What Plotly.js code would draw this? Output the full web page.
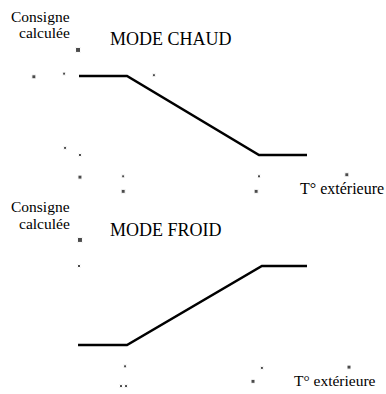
<!DOCTYPE html>
<html>
<head>
<meta charset="utf-8">
<script src="https://cdn.plot.ly/plotly-3.0.1.min.js"></script>
<style>html,body{margin:0;padding:0;background:#fff;}#chart{width:386px;height:394px;}</style>
</head>
<body>
<div id="chart"></div>
<script>
// Outdoor temperature breakpoints (abstract units) and computed setpoint (0 = min, 1 = max)
const chaudT = [0, 1, 3.75, 4.75];
const chaudConsigne = [1, 1, 0, 0];
const froidT = [-0.02, 1, 3.81, 4.75];
const froidConsigne = [0, 0, 1, 1];

// residual scattered dots (remnants of axes / dashed guides)
const chaudDotsX = [-0.02, -0.94, -0.31, 1.56, -0.29, 0.02, 0.02, 0.92, 0.92, 3.75, 3.69, 5.58];
const chaudDotsY = [1.33, 0.99, 1.03, 1.01, 0.09, 0.0, -0.28, -0.27, -0.46, -0.27, -0.46, -0.25];
const chaudDotsS = [5, 4, 3, 3, 3, 3, 4, 3, 4, 3, 4, 4];
const froidDotsX = [0.02, 0.0, 0.96, 0.875, 0.98, 3.81, 3.625, 5.625];
const froidDotsY = [1.33, 1.0, -0.27, -0.52, -0.52, -0.29, -0.46, -0.28];
const froidDotsS = [5, 3, 3, 3, 3, 3, 4, 4];

const labelY = "Consigne";
const labelY2 = "calculée";
const labelX = "T° extérieure";
const titleChaud = "MODE CHAUD";
const titleFroid = "MODE FROID";

const W = 386, H = 394;
const font = "Liberation Serif";

const traces = [
  {x: chaudT, y: chaudConsigne, mode: 'lines', line: {color: '#000', width: 2.5}, xaxis: 'x', yaxis: 'y', hoverinfo: 'skip'},
  {x: froidT, y: froidConsigne, mode: 'lines', line: {color: '#000', width: 2.5}, xaxis: 'x', yaxis: 'y2', hoverinfo: 'skip'},
  {x: chaudDotsX, y: chaudDotsY, mode: 'markers', marker: {color: '#000', size: chaudDotsS, symbol: 'square'}, xaxis: 'x', yaxis: 'y', hoverinfo: 'skip'},
  {x: froidDotsX, y: froidDotsY, mode: 'markers', marker: {color: '#000', size: froidDotsS, symbol: 'square'}, xaxis: 'x', yaxis: 'y2', hoverinfo: 'skip'}
];

function ann(text, px, py, anchor, size) {
  return {text: text, xref: 'paper', yref: 'paper', x: px / W, y: 1 - py / H,
    xanchor: anchor, yanchor: 'middle', showarrow: false,
    font: {family: font, size: size, color: '#000'}};
}

const hidden = {visible: false, showgrid: false, zeroline: false, fixedrange: true};

const layout = {
  width: W, height: H,
  margin: {l: 0, r: 0, t: 0, b: 0},
  paper_bgcolor: '#fff', plot_bgcolor: '#fff',
  showlegend: false,
  font: {family: font},
  xaxis: Object.assign({}, hidden, {range: [-79 / 48, (W - 79) / 48], domain: [0, 1]}),
  yaxis: Object.assign({}, hidden, {range: [(155 - H) / 79, 155 / 79], domain: [0, 1]}),
  yaxis2: Object.assign({}, hidden, {range: [(345 - H) / 79, 345 / 79], domain: [0, 1], overlaying: 'y'}),
  annotations: [
    ann(labelY, 72, 16, 'right', 15.5),
    ann(labelY2, 72, 33, 'right', 15.5),
    ann(titleChaud, 108, 39, 'left', 18),
    ann(labelX, 298, 189, 'left', 16),
    ann(labelY, 72, 206, 'right', 15.5),
    ann(labelY2, 72, 223, 'right', 15.5),
    ann(titleFroid, 108, 230, 'left', 18),
    ann(labelX, 292, 380, 'left', 15.5)
  ]
};

Plotly.newPlot('chart', traces, layout, {staticPlot: true, displayModeBar: false});
</script>
</body>
</html>
